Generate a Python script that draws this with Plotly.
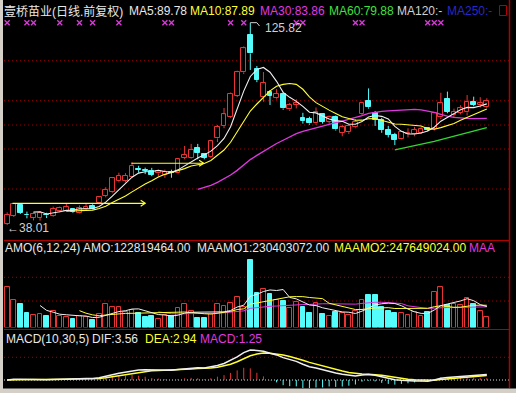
import numpy as np
import pandas as pd
import plotly.graph_objects as go

W, H = 516, 393

# ---------------- data ----------------
opens = [38.5, 42.0, 46.7, 42.4, 41.0, 41.2, 42.5, 41.8, 44.0, 44.2,
         44.8, 43.3, 44.8, 46.3, 47.4, 50.6, 52.5, 57.0, 57.2, 59.0,
         62.5, 61.8, 61.6, 60.4, 59.8, 60.9, 60.4, 67.1, 67.2, 71.3,
         68.7, 67.5, 75.6, 81.0, 85.0, 94.0, 104.3, 120.5, 105.6, 93.4,
         95.9, 93.0, 94.9, 88.2, 90.2, 84.6, 84.0, 82.1, 86.0, 82.8,
         84.7, 78.1, 78.3, 80.4, 86.2, 91.8, 86.5, 83.6, 79.2, 77.1,
         75.2, 77.3, 77.4, 78.1, 80.0, 79.5, 84.7, 92.6, 85.7, 86.7,
         86.9, 91.2, 90.0, 89.3]
highs = [43.5, 47.5, 47.2, 43.8, 43.5, 44.0, 43.3, 46.0, 46.0, 47.4,
         45.2, 46.5, 47.5, 47.0, 50.3, 54.4, 58.8, 60.7, 60.5, 65.2,
         63.7, 62.9, 62.8, 62.0, 62.0, 62.0, 67.0, 72.3, 73.2, 73.2,
         69.0, 75.0, 81.4, 88.8, 95.5, 105.0, 115.5, 125.82, 107.0, 104.4,
         96.6, 97.0, 95.5, 91.0, 92.6, 86.7, 85.0, 89.0, 86.5, 85.5,
         85.5, 81.5, 81.5, 84.0, 91.5, 97.3, 87.5, 84.5, 81.0, 78.0,
         78.8, 80.0, 80.6, 80.5, 80.5, 87.0, 95.4, 95.9, 88.5, 90.0,
         94.4, 93.7, 93.5, 93.0]
lows = [38.01, 41.5, 42.8, 40.9, 40.0, 39.9, 41.0, 41.5, 43.5, 43.8,
        43.3, 43.0, 44.5, 44.8, 47.0, 50.0, 52.0, 56.5, 56.5, 58.5,
        60.7, 60.1, 59.2, 59.0, 58.5, 58.5, 60.0, 66.5, 66.8, 66.5,
        66.5, 67.0, 74.0, 80.0, 84.5, 93.5, 103.5, 105.3, 100.0, 91.5,
        90.1, 92.5, 88.0, 87.5, 88.6, 82.0, 81.5, 81.5, 82.0, 82.0,
        79.0, 76.5, 77.5, 80.0, 85.5, 88.5, 81.0, 78.0, 76.0, 72.7,
        75.0, 76.0, 76.5, 77.5, 78.7, 79.0, 84.0, 86.5, 84.5, 86.0,
        85.5, 89.5, 89.0, 88.8]
closes = [42.5, 47.1, 43.3, 42.2, 42.8, 43.3, 42.2, 45.0, 45.5, 45.7,
          43.7, 45.2, 46.0, 45.1, 50.0, 53.2, 58.3, 59.3, 59.3, 63.7,
          62.0, 61.4, 59.8, 61.6, 61.2, 60.6, 66.5, 68.6, 70.5, 69.4,
          67.2, 74.6, 80.7, 86.0, 94.9, 104.3, 114.7, 112.5, 100.9, 99.5,
          94.0, 94.9, 88.6, 90.1, 90.8, 83.1, 82.1, 87.2, 82.8, 85.0,
          79.5, 80.4, 81.0, 82.8, 91.1, 89.1, 83.6, 79.2, 77.1, 74.9,
          78.4, 77.8, 79.2, 79.5, 79.3, 86.5, 90.8, 87.2, 87.2, 88.6,
          91.5, 90.2, 90.8, 91.8]
# turnover (AMO), millions of yuan
amo = [457, 308, 263, 159, 140, 151, 129, 185, 129, 121,
       92, 129, 114, 84, 148, 260, 233, 233, 170, 196,
       159, 121, 129, 95, 140, 129, 215, 260, 185, 110,
       110, 148, 260, 241, 271, 345, 233, 756, 383, 431,
       375, 308, 300, 222, 289, 233, 159, 271, 151, 129,
       177, 159, 140, 185, 308, 364, 364, 233, 185, 159,
       159, 140, 177, 129, 177, 394, 450, 252, 260, 252,
       327, 260, 185, 123]
signal_idx = [0, 3, 4, 8, 11, 13, 17, 24, 25, 34, 36, 44, 45, 53, 54, 64, 65, 66]
# drawn horizontal arrows: (start index, end index, price level)
arrows = [(0.8, 21.0, 47.4), (18.9, 29.9, 64.8)]
high_label = "125.82"
low_label = "38.01"

# ---------------- derived series ----------------
n = len(closes)
idx = np.arange(n)
c = pd.Series(closes)
ma5 = c.rolling(5).mean()
ma10 = c.rolling(10).mean()
ma30 = c.rolling(30).mean()
ma60 = c.rolling(60).mean()
a = pd.Series(amo, dtype=float)
maamo1 = a.rolling(6).mean()
maamo2 = a.rolling(12).mean()
maamo3 = a.rolling(24).mean()
ema10 = c.ewm(span=10, adjust=False).mean()
ema30 = c.ewm(span=30, adjust=False).mean()
dif = ema10 - ema30
dea = dif.ewm(span=5, adjust=False).mean()
macd = 2 * (dif - dea)

up = [cl >= op for op, cl in zip(opens, closes)]

# ---------------- colours ----------------
RED = "#e83434"
CYAN = "#54fcfc"
FRAME = "#b00000"
GRID = "#a00000"
WHITE = "#f0f0f0"
YELLOW = "#ffff30"
MAG = "#e038e0"
GREEN = "#30d830"
BLUE = "#2828c8"
LGRAY = "#d0d0d0"
FONT = "Liberation Sans, Arial, Noto Sans CJK SC, sans-serif"

# ---------------- geometry helpers ----------------
XR = [-1.096, 77.44]
def xp(px):
    return px / W
def yp(py):
    return 1 - py / H

P_TOP, P_BOT, P_PX = 135.66, 31.49, 240.0
def price_at(py):
    return P_TOP - py * (P_TOP - P_BOT) / P_PX

AMO_RANGE = [0, 980]
# MACD panel: pixel 329..388, zero at pixel 380, max DIF 30 px above zero
s = float(max(dif.max(), 1e-6)) / 30.0
MACD_RANGE = [-8 * s, 51 * s]

fig = go.Figure()

# ---------------- price panel ----------------
wcol_up = ([], [])
wcol_dn = ([], [])
for i in range(n):
    lo_b, hi_b = min(opens[i], closes[i]), max(opens[i], closes[i])
    tgt = wcol_up if up[i] else wcol_dn
    tgt[0].extend([i, i, None, i, i, None])
    tgt[1].extend([lows[i], lo_b, None, hi_b, highs[i], None])
fig.add_trace(go.Scatter(x=wcol_up[0], y=wcol_up[1], mode="lines",
                         line=dict(color=RED, width=1), xaxis="x", yaxis="y", hoverinfo="skip"))
fig.add_trace(go.Scatter(x=wcol_dn[0], y=wcol_dn[1], mode="lines",
                         line=dict(color=CYAN, width=1), xaxis="x", yaxis="y", hoverinfo="skip"))
body_h = [max(abs(cl - op), 0.25) for op, cl in zip(opens, closes)]
body_b = [min(op, cl) for op, cl in zip(opens, closes)]
fig.add_trace(go.Bar(x=idx, y=body_h, base=body_b, width=0.72,
                     marker=dict(color=["#000000" if u else CYAN for u in up],
                                 line=dict(color=[RED if u else CYAN for u in up], width=1)),
                     xaxis="x", yaxis="y"))

for ser, col, w in [(ma60, GREEN, 1.3), (ma30, MAG, 1.3), (ma10, YELLOW, 1.1), (ma5, WHITE, 1.1)]:
    fig.add_trace(go.Scatter(x=idx, y=ser, mode="lines", line=dict(color=col, width=w),
                             xaxis="x", yaxis="y", connectgaps=False))

# signal crosses
fig.add_trace(go.Scatter(x=signal_idx, y=[price_at(22.7)] * len(signal_idx), mode="markers",
                         marker=dict(symbol="x-thin", size=5, line=dict(color=MAG, width=1.3)),
                         xaxis="x", yaxis="y"))

# drawn arrows
dx_head = (XR[1] - XR[0]) / W * 4.5
dy_head = (P_TOP - P_BOT) / P_PX * 3
for x0, x1, lv in arrows:
    fig.add_trace(go.Scatter(x=[x0, x1, None, x1 - dx_head, x1, x1 - dx_head],
                             y=[lv, lv, None, lv + dy_head, lv, lv - dy_head],
                             mode="lines", line=dict(color=YELLOW, width=1.2),
                             xaxis="x", yaxis="y"))

# high marker line
imax = int(np.argmax(highs))
fig.add_trace(go.Scatter(x=[imax, imax + 1.0, imax + 1.4], y=[highs[imax], highs[imax], price_at(26)],
                         mode="lines", line=dict(color=LGRAY, width=1), xaxis="x", yaxis="y"))

# ---------------- AMO panel ----------------
fig.add_trace(go.Bar(x=idx, y=amo, width=0.72,
                     marker=dict(color=["#000000" if u else CYAN for u in up],
                                 line=dict(color=[RED if u else CYAN for u in up], width=1)),
                     xaxis="x2", yaxis="y2"))
for ser, col in [(maamo3, MAG), (maamo2, YELLOW), (maamo1, WHITE)]:
    fig.add_trace(go.Scatter(x=idx, y=ser, mode="lines", line=dict(color=col, width=1),
                             xaxis="x2", yaxis="y2"))

# ---------------- MACD panel ----------------
px_, py_, nx_, ny_ = [], [], [], []
for i in range(n):
    v = macd[i]
    if v >= 0:
        px_ += [i, i, None]; py_ += [0, v, None]
    else:
        nx_ += [i, i, None]; ny_ += [0, v, None]
fig.add_trace(go.Scatter(x=px_, y=py_, mode="lines", line=dict(color=RED, width=1),
                         xaxis="x3", yaxis="y3"))
fig.add_trace(go.Scatter(x=nx_, y=ny_, mode="lines", line=dict(color=CYAN, width=1),
                         xaxis="x3", yaxis="y3"))
fig.add_trace(go.Scatter(x=idx, y=dea, mode="lines", line=dict(color=YELLOW, width=1.5),
                         xaxis="x3", yaxis="y3"))
fig.add_trace(go.Scatter(x=idx, y=dif, mode="lines", line=dict(color=WHITE, width=1.5),
                         xaxis="x3", yaxis="y3"))

# ---------------- shapes ----------------
shapes = []
def hline(py, color, dash="solid", x0=4, x1=509, width=1):
    shapes.append(dict(type="line", xref="paper", yref="paper", x0=xp(x0), x1=xp(x1),
                       y0=yp(py), y1=yp(py), line=dict(color=color, width=width, dash=dash), layer="below"))
for py in [60.7, 100.7, 125, 149, 189, 277.3, 301, 357.3]:
    hline(py, GRID, dash="1px,3px")
hline(380, "#e0e0e0", dash="1px,2px")
hline(240.5, FRAME)
hline(329.5, FRAME)
# right frame line
shapes.append(dict(type="line", xref="paper", yref="paper", x0=xp(509.5), x1=xp(509.5),
                   y0=yp(0), y1=yp(388), line=dict(color=FRAME, width=1.5)))
# small box top-right
shapes.append(dict(type="rect", xref="paper", yref="paper", x0=xp(499.5), x1=xp(506.5),
                   y0=yp(15.5), y1=yp(5.5), line=dict(color=FRAME, width=1)))
# window borders
shapes.append(dict(type="rect", xref="paper", yref="paper", x0=0, x1=xp(3), y0=0, y1=1,
                   fillcolor="#d4d0c8", line=dict(width=0)))
shapes.append(dict(type="rect", xref="paper", yref="paper", x0=0, x1=1, y0=0, y1=yp(388.5),
                   fillcolor="#d4d0c8", line=dict(width=0)))

# ---------------- texts ----------------
ann = []
def txt(x, y, s_, color, size=12):
    ann.append(dict(xref="paper", yref="paper", x=xp(x), y=yp(y), text=s_, showarrow=False,
                    xanchor="left", yanchor="middle", font=dict(family=FONT, size=size, color=color),
                    borderpad=0))
txt(3, 11.5, "壹桥苗业(日线.前复权)", "#e8e8e8", 12)
txt(127.5, 11.5, "MA5:89.78", "#e8e8e8")
txt(188.5, 11.5, "MA10:87.89", YELLOW)
txt(258.5, 11.5, "MA30:83.86", MAG)
txt(327.5, 11.5, "MA60:79.88", "#40e040")
txt(395.5, 11.5, "MA120:-", "#d0d0d0")
txt(445.5, 11.5, "MA250:-", BLUE)
txt(263.5, 28.5, high_label, LGRAY)
txt(5.5, 227.5, "←" + low_label, LGRAY)
txt(3.5, 248, "AMO(6,12,24)", "#e8e8e8")
txt(82, 248, "AMO:122819464.00", "#e8e8e8")
txt(196, 248, "MAAMO1:230403072.00", "#e8e8e8")
txt(332.5, 248, "MAAMO2:247649024.00", YELLOW)
txt(467.5, 248, "MAA", MAG)
txt(4.5, 338.5, "MACD(10,30,5)", "#e8e8e8")
txt(91, 338.5, "DIF:3.56", "#e8e8e8")
txt(143.5, 338.5, "DEA:2.94", YELLOW)
txt(198.5, 338.5, "MACD:1.25", MAG)

ax_common = dict(visible=False, range=XR, domain=[0, 1], fixedrange=True)
fig.update_layout(
    width=W, height=H, margin=dict(l=0, r=0, t=0, b=0),
    paper_bgcolor="#000000", plot_bgcolor="#000000",
    showlegend=False, barmode="overlay", bargap=0,
    xaxis=dict(ax_common, anchor="y"),
    xaxis2=dict(ax_common, anchor="y2"),
    xaxis3=dict(ax_common, anchor="y3"),
    yaxis=dict(visible=False, range=[P_BOT, P_TOP], domain=[yp(240), 1], anchor="x"),
    yaxis2=dict(visible=False, range=AMO_RANGE, domain=[yp(327.5), yp(240)], anchor="x2"),
    yaxis3=dict(visible=False, range=MACD_RANGE, domain=[yp(388), yp(329)], anchor="x3"),
    shapes=shapes, annotations=ann,
)
fig.write_html("out.html", config={"displayModeBar": False},
               post_script="document.body.style.margin='0';document.body.style.overflow='hidden';")
